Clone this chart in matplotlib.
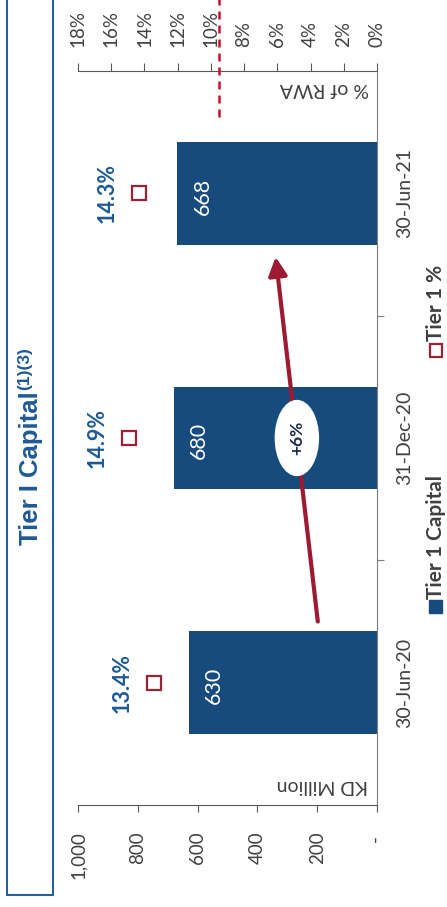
import matplotlib
matplotlib.use('Agg')
import matplotlib.pyplot as plt
from matplotlib.patches import Rectangle, Ellipse, FancyArrowPatch
from matplotlib.text import Annotation

plt.rcParams['font.family'] = ['Lato', 'DejaVu Sans']

# data (chart is drawn rotated 90 degrees, as in the scanned slide)
periods = ['30-Jun-20', '31-Dec-20', '30-Jun-21']
tier1_capital = [630, 680, 668]          # KD Million
tier1_pct = [13.4, 14.9, 14.3]           # % of RWA
kd_ticks = [0, 200, 400, 600, 800, 1000]
kd_labels = ['- ', '200', '400', '600', '800', '1,000']
pct_ticks = [0, 2, 4, 6, 8, 10, 12, 14, 16, 18]
pct_labels = ['%d%%' % t for t in pct_ticks]
min_req = 9.5
growth_label = '+6%'

navy = '#174b7d'
blue_txt = '#1d5a92'
dark_red = '#9b2335'
arrow_red = '#9e1a30'
dash_red = '#c8102e'
grey = '#404040'

W, H = 447, 907
def px(x, y):
    return (x / W, 1 - y / H)

fig = plt.figure(figsize=(W / 100, H / 100), dpi=100)

# title box
fig.add_artist(Rectangle(px(7, 895), 46 / W, 895 / H + 0.02, transform=fig.transFigure,
                         facecolor='white', edgecolor='#2a6099', lw=1.5, zorder=-1))
t = fig.text(*px(31, 545), 'Tier I Capital', rotation=90, ha='center', va='bottom',
             fontsize=18.5, fontweight='bold', family='Liberation Sans', color='#1f5a96')
fig.add_artist(Annotation('(1)(3)', xy=(0.0, 1.0), xycoords=t, xytext=(-1, 1),
                          textcoords='offset points', ha='left', va='bottom',
                          rotation=90, fontsize=12.5, fontweight='bold',
                          family='Liberation Sans', color='#1f5a96'))

ax = fig.add_axes([78 / W, 1 - 805 / H, 299 / W, 734 / H])
pos = list(range(len(periods)))

bars = ax.barh(pos, tier1_capital, height=0.42, color=navy, zorder=2)
for i, v in enumerate(tier1_capital):
    ax.annotate(str(v), xy=(v, i), xytext=(18.5, -2), textcoords='offset points',
                rotation=90, ha='center', va='center', color='white', fontsize=15.5, zorder=5)

ax.set_xlim(1000, 0)
ax.set_ylim(-0.5, 2.5)
ax.spines['left'].set_visible(False)
ax.spines['top'].set_visible(False)
ax.spines['bottom'].set_color('#595959')
ax.spines['right'].set_color('#7f7f7f')
ax.set_xticks(kd_ticks)
ax.set_xticklabels(kd_labels)
ax.tick_params(axis='x', direction='out', length=5, pad=14, labelrotation=90,
               labelsize=13.5, colors='#595959', labelcolor=grey)

ax.yaxis.tick_right()
ax.set_yticks([0.5, 1.5])
ax.set_yticklabels([])
ax.set_yticks(pos, minor=True)
ax.set_yticklabels(periods, minor=True, rotation=90, va='center')
ax.tick_params(axis='y', which='major', direction='out', length=5, colors='#7f7f7f')
ax.tick_params(axis='y', which='minor', length=0, pad=14, labelsize=14, labelcolor=grey)

ax.text(30, -0.42, 'KD Million', rotation=180, ha='right', va='center', fontsize=14, color=grey)
ax.text(27, 2.43, '% of RWA', rotation=180, ha='right', va='center', fontsize=14, color=grey)

# growth arrow and bubble
arrow_start = (198, 0.25)
arrow_end = (339, 1.74)
ax.add_patch(FancyArrowPatch(arrow_start, arrow_end, arrowstyle='-|>,head_length=0.55,head_width=0.28',
                             mutation_scale=20, lw=3, color=arrow_red, zorder=3,
                             shrinkA=0, shrinkB=0))
ax.add_patch(Ellipse((268, 1.0), width=144, height=0.306, facecolor='white',
                     edgecolor='white', zorder=4))
ax.text(268, 1.0, growth_label, rotation=90, ha='center', va='center', fontsize=12.5,
        fontweight='bold', color='#1c2b4a', zorder=5)

# secondary axis (% of RWA)
ax2 = ax.twiny()
ax2.set_xlim(18, 0)
for s in ['bottom', 'left', 'right']:
    ax2.spines[s].set_visible(False)
ax2.spines['top'].set_color('#595959')
ax2.set_xticks(pct_ticks)
ax2.set_xticklabels(pct_labels)
ax2.tick_params(axis='x', direction='out', length=6, pad=11, labelrotation=90,
                labelsize=13.5, colors='#595959', labelcolor=grey)
ax2.plot(tier1_pct, pos, ls='none', marker='s', mfc='white', mec=dark_red, ms=10.5, mew=1.6, zorder=4)
for i, p in enumerate(tier1_pct):
    ax2.annotate('%.1f%%' % p, xy=(p, i), xytext=(-23, 0), textcoords='offset points',
                 rotation=90, ha='center', va='center', color=blue_txt, fontsize=15.5,
                 fontweight='bold')
ax2.plot([min_req, min_req], [2.31, 2.85], ls=(0, (3.2, 2.4)), lw=1.8, color=dash_red,
         clip_on=False, zorder=6)

# legend
fig.add_artist(Rectangle(px(429, 613), 13 / W, 13 / H, transform=fig.transFigure,
                         facecolor=navy, edgecolor=navy))
fig.text(*px(436, 599), 'Tier 1 Capital', rotation=90, ha='center', va='bottom',
         fontsize=15, fontweight='bold', color=grey)
fig.add_artist(Rectangle(px(429.5, 357), 12 / W, 13 / H, transform=fig.transFigure,
                         facecolor='white', edgecolor=dark_red, lw=1.6))
fig.text(*px(436, 341), 'Tier 1 %', rotation=90, ha='center', va='bottom',
         fontsize=15, fontweight='bold', color=grey)

fig.savefig('out.png', dpi=100)
